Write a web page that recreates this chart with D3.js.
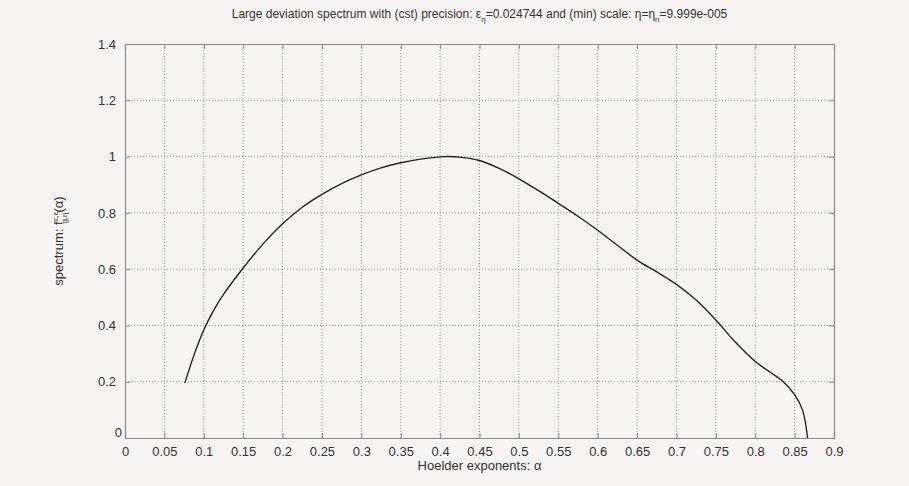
<!DOCTYPE html>
<html>
<head>
<meta charset="utf-8">
<script src="https://cdn.jsdelivr.net/npm/d3@7"></script>
<style>
  html, body { margin: 0; padding: 0; background: #f7f5f3; }
  svg { display: block; }
  text { font-family: "Liberation Sans", Arial, sans-serif; fill: #333; }
</style>
</head>
<body>
<svg id="chart" width="909" height="486"></svg>
<script>
// Hoelder exponents (alpha) and spectrum values f(alpha)
const alphaValues = [0.076, 0.088, 0.1, 0.112, 0.125, 0.15, 0.175, 0.2, 0.225, 0.25, 0.275, 0.3, 0.325, 0.35, 0.375, 0.4, 0.41, 0.425, 0.45, 0.475, 0.5, 0.525, 0.55, 0.575, 0.6, 0.625, 0.65, 0.675, 0.7, 0.725, 0.75, 0.775, 0.8, 0.82, 0.835, 0.85, 0.86, 0.8665];
const spectrumValues = [0.195, 0.298, 0.384, 0.451, 0.510, 0.604, 0.689, 0.761, 0.820, 0.866, 0.904, 0.935, 0.960, 0.978, 0.991, 0.999, 1.0, 0.998, 0.986, 0.958, 0.921, 0.879, 0.834, 0.788, 0.738, 0.685, 0.632, 0.590, 0.546, 0.490, 0.419, 0.340, 0.272, 0.232, 0.202, 0.154, 0.1, 0.0];

const xTicks = [0, 0.05, 0.1, 0.15, 0.2, 0.25, 0.3, 0.35, 0.4, 0.45, 0.5, 0.55, 0.6, 0.65, 0.7, 0.75, 0.8, 0.85, 0.9];
const yTicks = [0, 0.2, 0.4, 0.6, 0.8, 1, 1.2, 1.4];

const margin = { left: 125, right: 75, top: 44, bottom: 48 };
const W = 909, H = 486;
const svg = d3.select("#chart");

const x = d3.scaleLinear().domain([0, 0.9]).range([margin.left, W - margin.right]);
const y = d3.scaleLinear().domain([0, 1.4]).range([H - margin.bottom, margin.top]);

const axisColor = "#8a8a8a";
const gridColor = "#9a9a9a";

// dotted grid
const grid = svg.append("g");
grid.selectAll("line.gx").data(xTicks.slice(1, -1)).join("line")
  .attr("x1", d => x(d)).attr("x2", d => x(d))
  .attr("y1", y(0)).attr("y2", y(1.4))
  .attr("stroke", gridColor).attr("stroke-width", 1)
  .attr("stroke-dasharray", "1,2");
grid.selectAll("line.gy").data(yTicks.slice(1, -1)).join("line")
  .attr("x1", x(0)).attr("x2", x(0.9))
  .attr("y1", d => y(d)).attr("y2", d => y(d))
  .attr("stroke", gridColor).attr("stroke-width", 1)
  .attr("stroke-dasharray", "1,2");

// axes (inward ticks) on all four sides
const fmt = d => String(d);
const axisBottomG = svg.append("g").attr("transform", `translate(0,${y(0)})`)
  .call(d3.axisBottom(x).tickValues(xTicks).tickSize(-5).tickPadding(9).tickFormat(fmt));
const axisLeftG = svg.append("g").attr("transform", `translate(${x(0)},0)`)
  .call(d3.axisLeft(y).tickValues(yTicks).tickSize(-5).tickPadding(9).tickFormat(fmt));
const axisTopG = svg.append("g").attr("transform", `translate(0,${y(1.4)})`)
  .call(d3.axisTop(x).tickValues(xTicks).tickSize(-5).tickFormat(""));
const axisRightG = svg.append("g").attr("transform", `translate(${x(0.9)},0)`)
  .call(d3.axisRight(y).tickValues(yTicks).tickSize(-5).tickFormat(""));

[axisBottomG, axisLeftG, axisTopG, axisRightG].forEach(g => {
  g.selectAll(".domain").attr("stroke", axisColor).attr("stroke-width", 1.2);
  g.selectAll(".tick line").attr("stroke", axisColor);
  g.selectAll(".tick text").attr("fill", "#333")
    .style("font-family", "'Liberation Sans', Arial, sans-serif").style("font-size", "13px");
});
// the origin label of the y axis sits slightly up and left
axisLeftG.selectAll(".tick").filter(d => d === 0).select("text").attr("dy", "-0.1em").attr("x", -3);

// spectrum curve
const pts = alphaValues.map((a, i) => [a, spectrumValues[i]]);
svg.append("path")
  .datum(pts)
  .attr("fill", "none")
  .attr("stroke", "#222")
  .attr("stroke-width", 1.4)
  .attr("d", d3.line().x(d => x(d[0])).y(d => y(d[1])).curve(d3.curveCatmullRom.alpha(0.5)));

// title
const title = svg.append("text")
  .attr("x", (x(0) + x(0.9)) / 2).attr("y", 18)
  .attr("text-anchor", "middle").style("font-size", "12px");
title.append("tspan").text("Large deviation spectrum with (cst) precision: ε");
title.append("tspan").attr("dy", 4).style("font-size", "8px").text("η");
title.append("tspan").attr("dy", -4).text("=0.024744 and (min) scale: η=η");
title.append("tspan").attr("dy", 4).style("font-size", "8px").text("n");
title.append("tspan").attr("dy", -4).text("=9.999e-005");

// x label
svg.append("text")
  .attr("x", (x(0) + x(0.9)) / 2).attr("y", 470)
  .attr("text-anchor", "middle").style("font-size", "13px")
  .text("Hoelder exponents: α");

// y label
const yl = svg.append("text")
  .attr("transform", `translate(63,${(y(0) + y(1.4)) / 2}) rotate(-90)`)
  .attr("text-anchor", "middle").style("font-size", "13px");
yl.append("tspan").text("spectrum: f");
yl.append("tspan").attr("dy", -5).style("font-size", "8px").text("c,ε");
yl.append("tspan").attr("dx", -12).attr("dy", 9).style("font-size", "8px").text("g,η");
yl.append("tspan").attr("dy", -4).text("(α)");
</script>
</body>
</html>
